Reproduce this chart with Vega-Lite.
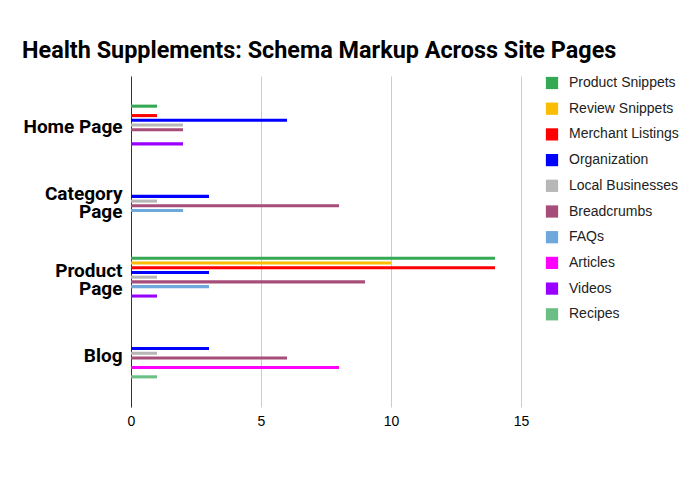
{
  "$schema": "https://vega.github.io/schema/vega-lite/v6.json",
  "autosize": {"type": "none"},
  "width": 390,
  "height": 331,
  "padding": {"left": 131, "top": 76, "right": 179, "bottom": 93},
  "background": "white",
  "title": {
    "text": "Health Supplements: Schema Markup Across Site Pages",
    "anchor": "start",
    "frame": "group",
    "dx": -109,
    "offset": 13,
    "limit": 700,
    "font": "Roboto",
    "fontSize": 23.4,
    "fontWeight": "bold",
    "color": "#000000"
  },
  "data": {
    "values": [
      {"page": "Home Page", "type": "Product Snippets", "count": 1},
      {"page": "Home Page", "type": "Merchant Listings", "count": 1},
      {"page": "Home Page", "type": "Organization", "count": 6},
      {"page": "Home Page", "type": "Local Businesses", "count": 2},
      {"page": "Home Page", "type": "Breadcrumbs", "count": 2},
      {"page": "Home Page", "type": "Videos", "count": 2},
      {"page": "Category Page", "type": "Organization", "count": 3},
      {"page": "Category Page", "type": "Local Businesses", "count": 1},
      {"page": "Category Page", "type": "Breadcrumbs", "count": 8},
      {"page": "Category Page", "type": "FAQs", "count": 2},
      {"page": "Product Page", "type": "Product Snippets", "count": 14},
      {"page": "Product Page", "type": "Review Snippets", "count": 10},
      {"page": "Product Page", "type": "Merchant Listings", "count": 14},
      {"page": "Product Page", "type": "Organization", "count": 3},
      {"page": "Product Page", "type": "Local Businesses", "count": 1},
      {"page": "Product Page", "type": "Breadcrumbs", "count": 9},
      {"page": "Product Page", "type": "FAQs", "count": 3},
      {"page": "Product Page", "type": "Videos", "count": 1},
      {"page": "Blog", "type": "Organization", "count": 3},
      {"page": "Blog", "type": "Local Businesses", "count": 1},
      {"page": "Blog", "type": "Breadcrumbs", "count": 6},
      {"page": "Blog", "type": "Articles", "count": 8},
      {"page": "Blog", "type": "Recipes", "count": 1}
    ]
  },
  "mark": {"type": "bar"},
  "encoding": {
    "y": {
      "field": "page",
      "type": "nominal",
      "sort": ["Home Page", "Category Page", "Product Page", "Blog"],
      "scale": {"paddingInner": 0.39, "paddingOuter": 0.37},
      "axis": {
        "title": null,
        "ticks": false,
        "domain": true,
        "domainColor": "#333333",
        "domainWidth": 1,
        "labelFont": "Roboto",
        "labelFontSize": 19,
        "labelFontWeight": "bold",
        "labelColor": "#000000",
        "labelPadding": 9,
        "labelLineHeight": 18,
        "labelOffset": {"expr": "datum.value == 'Category Page' || datum.value == 'Product Page' ? -9 : 0"},
        "labelExpr": "datum.label == 'Category Page' ? ['Category', 'Page'] : datum.label == 'Product Page' ? ['Product', 'Page'] : datum.label"
      }
    },
    "yOffset": {
      "field": "type",
      "type": "nominal",
      "scale": {
        "domain": ["Product Snippets", "Review Snippets", "Merchant Listings", "Organization", "Local Businesses", "Breadcrumbs", "FAQs", "Articles", "Videos", "Recipes"],
        "paddingInner": 0.35,
        "paddingOuter": 0.1
      }
    },
    "x": {
      "field": "count",
      "type": "quantitative",
      "scale": {"domain": [0, 15]},
      "axis": {
        "title": null,
        "values": [0, 5, 10, 15],
        "ticks": false,
        "domain": false,
        "labelFlush": false,
        "gridColor": "#cccccc",
        "gridWidth": 1,
        "labelFont": "Liberation Sans",
        "labelFontSize": 14,
        "labelColor": "#000000",
        "labelPadding": 7
      }
    },
    "color": {
      "field": "type",
      "type": "nominal",
      "scale": {
        "domain": ["Product Snippets", "Review Snippets", "Merchant Listings", "Organization", "Local Businesses", "Breadcrumbs", "FAQs", "Articles", "Videos", "Recipes"],
        "range": ["#34a853", "#fbbc04", "#ff0000", "#0000ff", "#b7b7b7", "#a64d79", "#6fa8dc", "#ff00ff", "#9900ff", "#6cbf84"]
      },
      "legend": {
        "title": null,
        "orient": "none",
        "legendX": 414,
        "legendY": 0,
        "symbolType": "square",
        "symbolSize": 150,
        "symbolStrokeWidth": 0,
        "labelFont": "Liberation Sans",
        "labelFontSize": 14,
        "labelColor": "#222222",
        "labelOffset": 10,
        "rowPadding": 11.7
      }
    }
  },
  "config": {
    "view": {"stroke": null}
  }
}
